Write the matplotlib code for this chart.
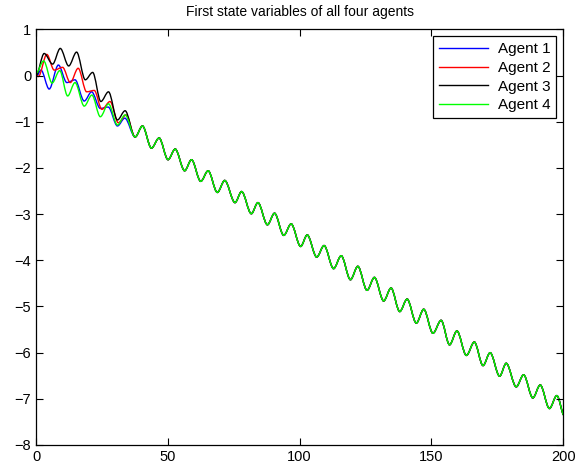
import numpy as np
import matplotlib.pyplot as plt
from matplotlib.path import Path
from matplotlib.patches import PathPatch
from matplotlib.lines import Line2D

plt.rcParams['font.family'] = ['Liberation Sans', 'DejaVu Sans']

# extrema (time, value) of the first state before the agents agree
t_agent1 = [0.0, 1.9, 5.0, 8.5, 11.7, 14.8, 18.3, 21.1, 24.4, 27.4, 30.9, 33.7]
y_agent1 = [-0.03, 0.12, -0.29, 0.23, -0.15, -0.09, -0.55, -0.35, -0.71, -0.68, -1.09, -0.92]

t_agent2 = [0.0, 0.9, 4.1, 6.9, 10.1, 13.0, 16.0, 19.2, 22.1, 25.0, 28.1, 31.2, 34.2]
y_agent2 = [0.02, -0.02, 0.46, 0.12, 0.18, -0.15, 0.16, -0.35, -0.32, -0.73, -0.56, -1.02, -0.85]

t_agent3 = [0.0, 3.1, 6.3, 9.2, 12.4, 15.4, 18.7, 21.5, 24.6, 27.5, 30.9, 33.8]
y_agent3 = [0.0, 0.48, 0.25, 0.59, 0.21, 0.51, -0.09, 0.07, -0.56, -0.35, -0.96, -0.76]

t_agent4 = [0.0, 2.9, 6.1, 9.0, 12.0, 14.8, 18.3, 21.2, 24.4, 27.5, 30.9, 33.8]
y_agent4 = [0.05, 0.32, -0.16, 0.11, -0.44, -0.15, -0.66, -0.42, -0.89, -0.61, -1.07, -0.85]

# after consensus all four agents follow the same trajectory
t_common = [37.6, 40.4, 43.8, 46.7, 50.1, 52.8, 56.4, 59.0, 62.5, 65.3, 68.8, 71.6,
            75.5, 78.0, 81.7, 84.2, 87.8, 90.5, 94.0, 96.8, 100.4, 102.9, 106.5, 109.3,
            112.9, 115.8, 119.3, 122.1, 125.6, 128.4, 131.9, 134.7, 138.0, 140.8, 144.3,
            147.1, 150.6, 153.7, 156.9, 159.7, 163.3, 166.3, 169.6, 172.3, 175.9, 178.4,
            182.2, 185.0, 188.5, 191.3, 194.8, 197.6, 200.0]
y_common = [-1.33, -1.09, -1.57, -1.35, -1.82, -1.59, -2.06, -1.82, -2.29, -2.06, -2.53, -2.27,
            -2.75, -2.51, -2.99, -2.75, -3.23, -2.98, -3.46, -3.21, -3.70, -3.45, -3.93, -3.68,
            -4.18, -3.90, -4.42, -4.13, -4.65, -4.37, -4.88, -4.60, -5.11, -4.84, -5.36,
            -5.06, -5.58, -5.30, -5.83, -5.53, -6.06, -5.77, -6.28, -6.00, -6.51, -6.23,
            -6.74, -6.48, -6.98, -6.70, -7.21, -6.93, -7.35]

labels = ['Agent 1', 'Agent 2', 'Agent 3', 'Agent 4']
colors = ['#0000ff', '#ff0000', '#000000', '#00ff00']


def smooth_path(ts, ys):
    # cubic segments between extrema, flat tangent at each extremum
    verts = [(ts[0], ys[0])]
    codes = [Path.MOVETO]
    n = len(ts)
    for i in range(n - 1):
        x0, y0, x1, y1 = ts[i], ys[i], ts[i + 1], ys[i + 1]
        d = (x1 - x0) / 3
        c1 = (x0 + d, y0)
        if i == n - 2:
            c2 = (x1 - d, y1 - (y1 - y0) / 3)
        else:
            c2 = (x1 - d, y1)
        verts += [c1, c2, (x1, y1)]
        codes += [Path.CURVE4] * 3
    return Path(verts, codes)


fig = plt.figure(figsize=(5.78, 4.74), dpi=100)
ax = fig.add_axes([0.0623, 0.0612, 0.912, 0.8766])

series = [(t_agent1, y_agent1), (t_agent2, y_agent2), (t_agent3, y_agent3), (t_agent4, y_agent4)]
handles = []
for (ts, ys), lab, c in zip(series, labels, colors):
    path = smooth_path(np.array(ts + t_common), np.array(ys + y_common))
    ax.add_patch(PathPatch(path, facecolor='none', edgecolor=c, lw=1.0))
    handles.append(Line2D([], [], color=c, lw=1.0, label=lab))

ax.set_xlim(0, 200)
ax.set_ylim(-8, 1)
ax.set_xticks(np.arange(0, 201, 50))
ax.set_yticks(np.arange(-8, 2, 1))
ax.tick_params(direction='in', top=True, right=True, length=5, width=0.8, labelsize=10.5)
for s in ax.spines.values():
    s.set_linewidth(0.9)

ax.set_title('First state variables of all four agents', fontsize=10, pad=10)

leg = ax.legend(handles=handles, loc='upper right', fontsize=11, fancybox=False,
                edgecolor='black', framealpha=1, borderaxespad=0.45, handlelength=3.2,
                labelspacing=0.3, borderpad=0.4, handletextpad=0.6)
leg.get_frame().set_linewidth(0.9)

plt.savefig('out.png', dpi=100)
